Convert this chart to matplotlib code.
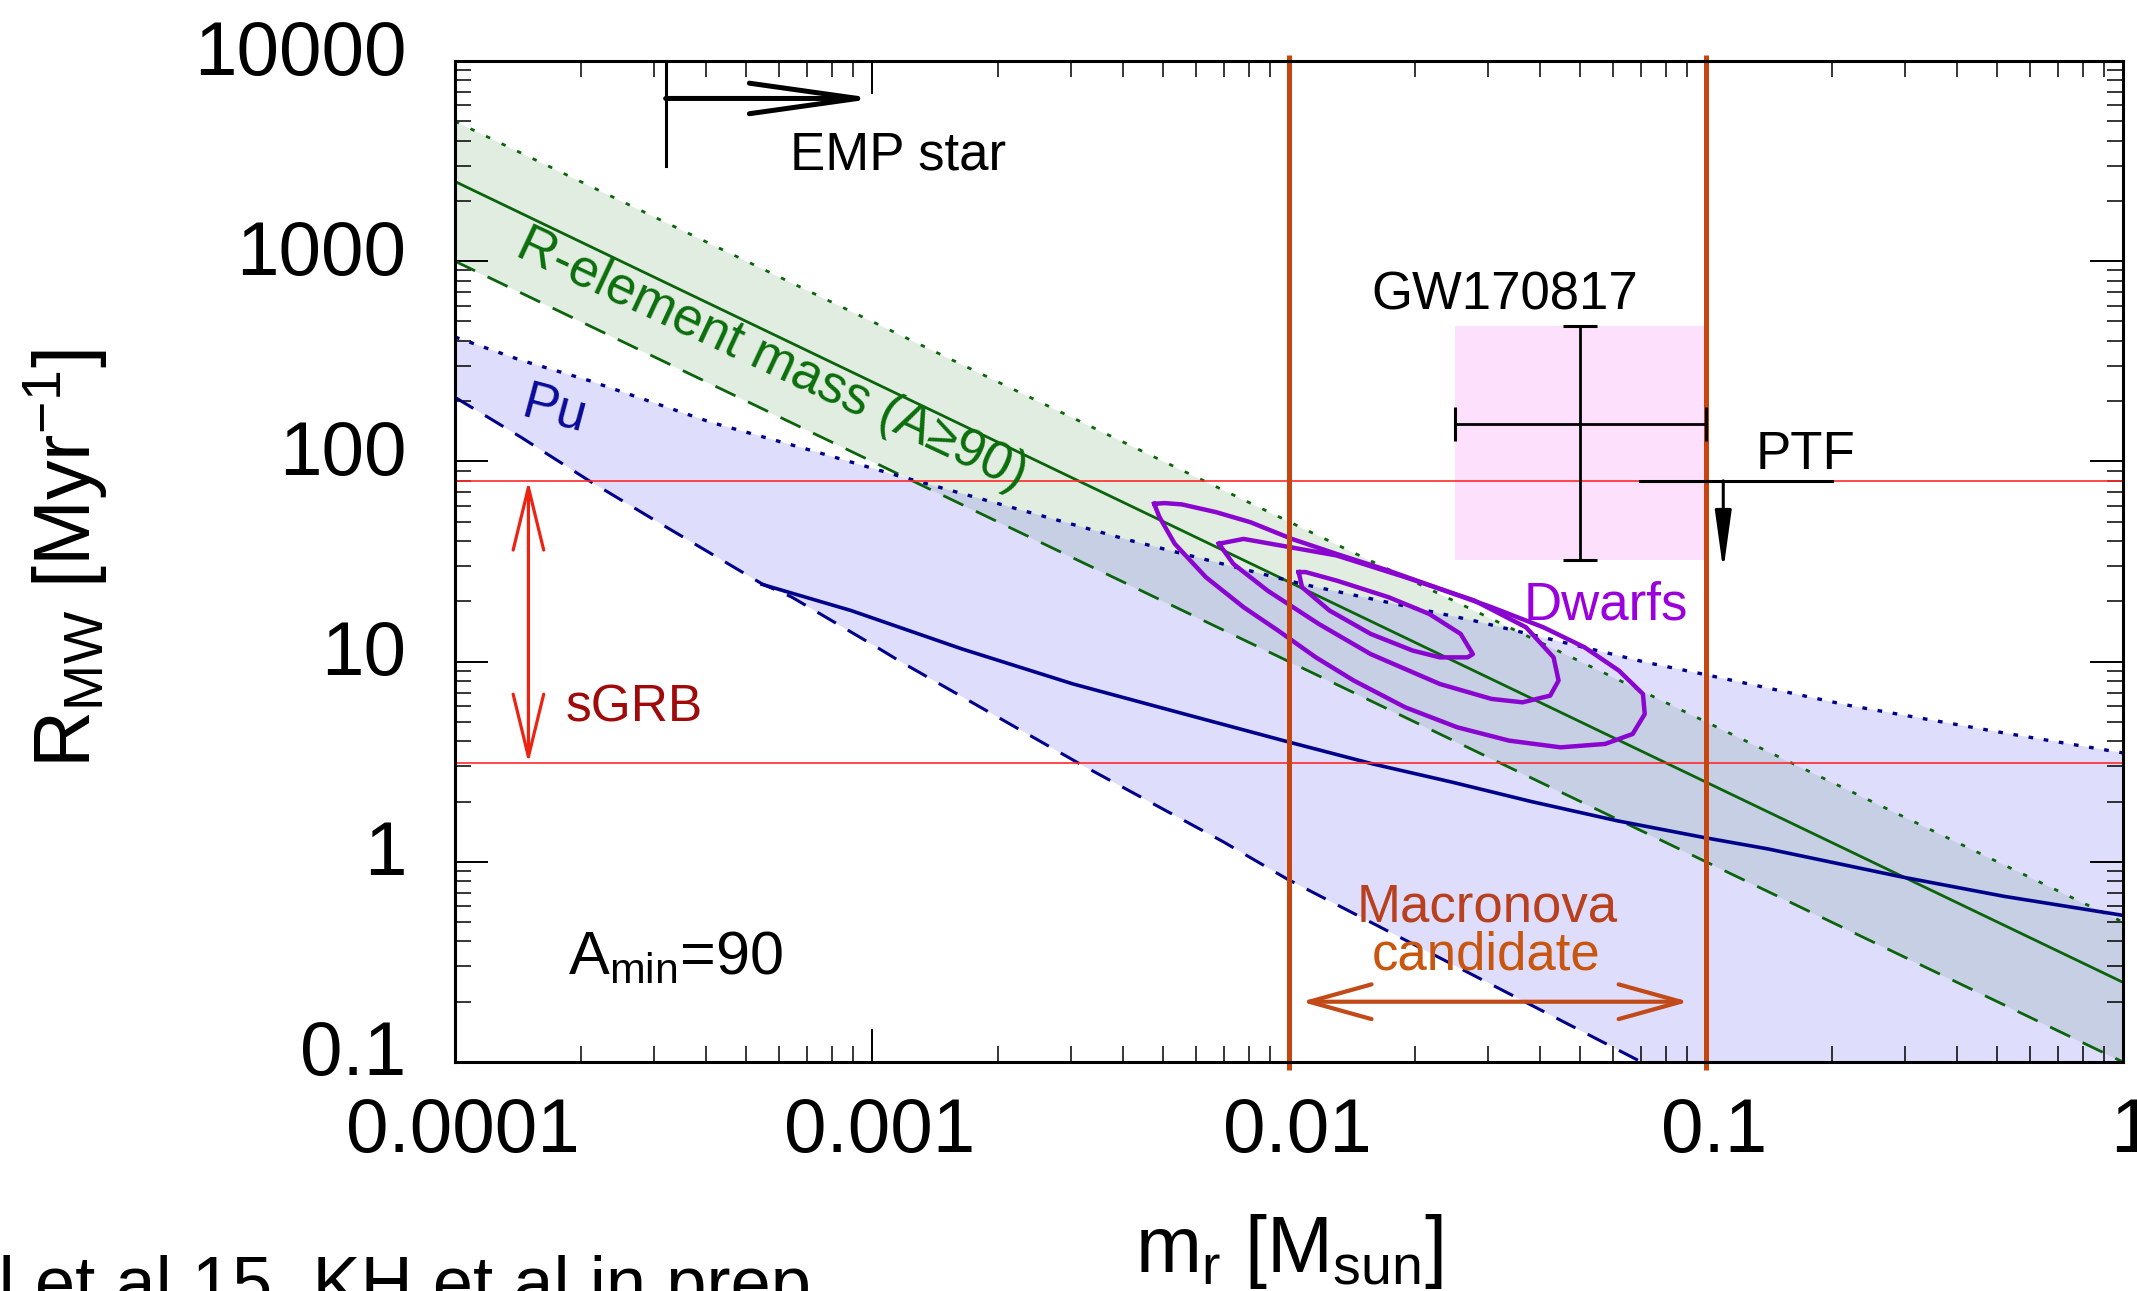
import matplotlib
matplotlib.use('Agg')
import matplotlib.pyplot as plt
from matplotlib.ticker import LogLocator, NullFormatter
from matplotlib.transforms import ScaledTranslation

plt.rcParams['font.family'] = ['Liberation Sans', 'DejaVu Sans']
plt.rcParams['mathtext.default'] = 'regular'

# ---------------- data ----------------
x_lim = [1e-4, 1.0]
y_lim = [0.1, 1e4]
x_ticks = [1e-4, 1e-3, 1e-2, 1e-1, 1.0]
x_tick_labels = ['0.0001', '0.001', '0.01', '0.1', '1']
y_ticks = [0.1, 1, 10, 100, 1000, 10000]
y_tick_labels = ['0.1', '1', '10', '100', '1000', '10000']

# r-element mass band (A>=90)
relem_m = [1e-4, 1e-2, 1.0]
relem_upper = [5000, 50, 0.5]
relem_mid = [2500, 25, 0.25]
relem_lower = [1000, 10, 0.1]

# Pu band
pu_upper_m = [1e-4, 1.44e-4, 2.09e-4, 4.1e-4, 7.2e-4, 1.15e-3, 4.16e-3, 1.075e-2,
              2.78e-2, 7.2e-2, 0.1, 0.2175, 0.519, 1.0]
pu_upper_R = [418, 320, 254, 157, 113, 85, 40.3, 24.4, 16.0, 9.9, 8.6, 6.07, 4.4, 3.5]
pu_lower_m = [1e-4, 1.44e-4, 2.09e-4, 3.02e-4, 5.44e-4, 6.42e-4, 1.027e-3, 1.17e-3,
              3.18e-3, 6.95e-3, 9.9e-3, 0.070]
pu_lower_R = [209, 132, 80.4, 50.7, 24.5, 21.0, 11.8, 10.0, 3.05, 1.26, 0.82, 0.1]
pu_mid_m = [5.45e-4, 8.9e-4, 1.643e-3, 3.03e-3, 5.6e-3, 9.92e-3, 1.59e-2, 2.46e-2, 3.81e-2,
            6.15e-2, 9.93e-2, 0.1407, 0.295, 0.519, 1.0]
pu_mid_R = [24.3, 18.0, 11.57, 7.74, 5.48, 3.98, 3.08, 2.5, 2.0, 1.6, 1.32, 1.16, 0.84,
            0.672, 0.54]

# Dwarf galaxy contours
dw_outer_m = [0.00475, 0.00503, 0.00553, 0.00668, 0.00808, 0.01016, 0.0130, 0.0173, 0.0230,
              0.0306, 0.0407, 0.0511, 0.0618, 0.0706, 0.0713, 0.0667, 0.0573, 0.0448, 0.0337,
              0.0253, 0.0190, 0.0143, 0.0116, 0.00941, 0.00778, 0.00632, 0.00532, 0.00489]
dw_outer_R = [61.4, 61.9, 61.0, 55.8, 49.7, 41.0, 34.5, 28.5, 23.1, 18.7, 14.85, 11.8, 9.02,
              6.89, 5.47, 4.35, 3.88, 3.73, 4.03, 4.70, 5.91, 8.04, 10.5, 14.3, 18.7, 26.4,
              38.8, 52.7]
dw_mid_m = [0.00679, 0.00778, 0.0130, 0.0190, 0.0278, 0.0370, 0.0431, 0.0443, 0.0423, 0.0363,
            0.0306, 0.0230, 0.0157, 0.0118, 0.00889, 0.00735]
dw_mid_R = [38.8, 41.0, 33.9, 26.4, 20.2, 14.85, 10.5, 8.04, 6.76, 6.26, 6.51, 7.73, 10.9,
            15.4, 22.6, 30.8]
dw_inner_m = [0.01055, 0.01096, 0.0130, 0.0173, 0.0217, 0.0258, 0.0276, 0.0268, 0.0230,
              0.0198, 0.0157, 0.0125, 0.01075]
dw_inner_R = [28.0, 28.0, 25.4, 21.0, 17.3, 13.75, 10.9, 10.5, 10.5, 11.35, 13.75, 18.0, 23.5]

# observational constraints
sgrb_range = [3.1, 80]
sgrb_arrow_m = 1.5e-4
macronova_range = [0.01, 0.1]
macronova_arrow_m = [0.0107, 0.091]
macronova_arrow_R = 0.2
gw_m, gw_m_lo, gw_m_hi = 0.05, 0.025, 0.1
gw_R, gw_R_lo, gw_R_hi = 154, 32, 477
ptf_R = 80
ptf_m_range = [0.0695, 0.2]
ptf_arrow_m = 0.11
ptf_arrow_end = 28.5
emp_m = 3.2e-4
emp_R_bottom = 2985
emp_arrow_R = 6500
emp_arrow_end = 1.02e-3

# ---------------- colours ----------------
GREEN = '#0b640b'
NAVY = '#00008b'
PURPLE = '#8a05cf'
ORANGE = '#c5460e'
RED = '#ff2a2a'

W, H = 2137, 1291
fig = plt.figure(figsize=(W / 100, H / 100), dpi=100)
ax = fig.add_axes([455 / W, 1 - 1062 / H, (2123 - 455) / W, (1062 - 61) / H])
ax.set_xscale('log')
ax.set_yscale('log')
ax.set_xlim(x_lim)
ax.set_ylim(y_lim)

# bands
ax.fill_between(relem_m, relem_lower, relem_upper, color='#e1ede1', lw=0, zorder=1)
poly_m = pu_upper_m + [x_lim[1]] + pu_lower_m[::-1]
poly_R = pu_upper_R + [y_lim[0]] + pu_lower_R[::-1]
ax.fill(poly_m, poly_R, color=(90 / 255, 90 / 255, 240 / 255), alpha=0.2, lw=0, zorder=1.5)

# GW170817 box
ax.fill_between([gw_m_lo, gw_m_hi], gw_R_lo, gw_R_hi, color='#fde0fb', lw=0, zorder=1.2)

# r-element lines
ax.plot(relem_m, relem_upper, color=GREEN, lw=2.0, ls=(0, (1.6, 4.6)), zorder=3)
ax.plot(relem_m, relem_mid, color=GREEN, lw=2.0, zorder=3)
ax.plot(relem_m, relem_lower, color=GREEN, lw=2.0, ls=(0, (8, 5)), zorder=3)

# Pu lines
ax.plot(pu_upper_m, pu_upper_R, color=NAVY, lw=2.4, ls=(0, (1.4, 3.2)), zorder=3)
ax.plot(pu_lower_m, pu_lower_R, color=NAVY, lw=2.2, ls=(0, (7, 4.5)), zorder=3)
ax.plot(pu_mid_m, pu_mid_R, color=NAVY, lw=2.6, zorder=3)

# dwarf contours
for cm, cr in [(dw_outer_m, dw_outer_R), (dw_mid_m, dw_mid_R), (dw_inner_m, dw_inner_R)]:
    ax.plot(cm + cm[:1], cr + cr[:1], color=PURPLE, lw=3.2, zorder=3.2,
            solid_joinstyle='round')

# sGRB lines and arrow
for r in sgrb_range:
    ax.axhline(r, color=RED, lw=1.2, zorder=4)
ax.annotate('', xy=(sgrb_arrow_m, sgrb_range[0]), xytext=(sgrb_arrow_m, sgrb_range[1]),
            arrowprops=dict(arrowstyle='<->,head_length=45,head_width=11', mutation_scale=1,
                            color='#ee2211', lw=2.3, shrinkA=0, shrinkB=0), zorder=5)

# macronova vertical lines and arrow
ax.vlines(macronova_range, -0.008, 1.006, transform=ax.get_xaxis_transform(),
          colors=ORANGE, lw=3.6, clip_on=False, zorder=5)
ax.annotate('', xy=(macronova_arrow_m[0], macronova_arrow_R),
            xytext=(macronova_arrow_m[1], macronova_arrow_R),
            arrowprops=dict(arrowstyle='<->,head_length=45,head_width=12.5', mutation_scale=1,
                            color='#c24a18', lw=3.0, shrinkA=0, shrinkB=0), zorder=5)

# GW170817 error bars
ax.errorbar([gw_m], [gw_R], xerr=[[gw_m - gw_m_lo], [gw_m_hi - gw_m]],
            yerr=[[gw_R - gw_R_lo], [gw_R_hi - gw_R]], fmt='none', ecolor='black',
            elinewidth=2.0, capsize=12, capthick=2.2, zorder=6)

# PTF limit
ax.plot(ptf_m_range, [ptf_R, ptf_R], color='black', lw=2.2, zorder=6)
ax.annotate('', xy=(ptf_arrow_m, ptf_arrow_end), xytext=(ptf_arrow_m, ptf_R),
            arrowprops=dict(arrowstyle='-|>,head_length=36,head_width=5', mutation_scale=1,
                            color='black', lw=2.2, shrinkA=0, shrinkB=0), zorder=6)

# EMP star limit
ax.plot([emp_m, emp_m], [emp_R_bottom, y_lim[1]], color='black', lw=2.2, zorder=6,
        clip_on=False)
ax.annotate('', xy=(emp_arrow_end, emp_arrow_R), xytext=(emp_m, emp_arrow_R),
            arrowprops=dict(arrowstyle='->,head_length=78,head_width=11', mutation_scale=1,
                            color='black', lw=3.6, shrinkA=0, shrinkB=0), zorder=6)

# ---------------- texts (pixel positions) ----------------
def px(x, y):
    return x / W, 1 - y / H

def ptext(x, y, s, **kw):
    fig.text(*px(x, y), s, **kw)

ptext(898, 170, 'EMP star', fontsize=38, ha='center', va='baseline')
ptext(1505, 310, 'GW170817', fontsize=38, ha='center', va='baseline')
ptext(1805, 469, 'PTF', fontsize=38, ha='center', va='baseline')
ptext(1606, 620, 'Dwarfs', fontsize=38, ha='center', va='baseline', color='#9a00dc')
ptext(634, 721, 'sGRB', fontsize=37, ha='center', va='baseline', color='#a00a0a')
ptext(1487, 922, 'Macronova', fontsize=38, ha='center', va='baseline', color='#b8401e')
ptext(1486, 969, 'candidate', fontsize=38, ha='center', va='baseline', color='#c8560e')
ptext(676, 974, r'A$_{min}$=90', fontsize=44, ha='center', va='baseline')
ptext(555, 410, 'Pu', fontsize=38, ha='center', va='center', color='#0a0a9a',
      rotation=-15, rotation_mode='anchor')
ptext(772, 360, 'R-element mass (A\u226590)', fontsize=38, ha='center', va='center',
      color='#0b6e0b', rotation=-25, rotation_mode='anchor')

# axis labels
ptext(66, 559, r'R$_{MW}$ [Myr$^{-1}$]', fontsize=57, ha='center', va='center', rotation=90)
ptext(1289, 1272, r'm$_r$ [M$_{sun}$]', fontsize=57, ha='center', va='baseline')
ptext(811, 1307, 'Paul et al 15, KH et al in prep', fontsize=52, ha='right', va='baseline')

# ---------------- ticks ----------------
ax.set_xticks(x_ticks)
ax.set_xticklabels(x_tick_labels)
ax.set_yticks(y_ticks)
ax.set_yticklabels(y_tick_labels)
ax.xaxis.set_minor_locator(LogLocator(base=10, subs=range(2, 10), numticks=20))
ax.yaxis.set_minor_locator(LogLocator(base=10, subs=range(2, 10), numticks=20))
ax.xaxis.set_minor_formatter(NullFormatter())
ax.yaxis.set_minor_formatter(NullFormatter())
ax.tick_params(which='both', direction='in', top=True, right=True, colors='black')
ax.tick_params(which='major', length=24, width=1.4, labelsize=55)
ax.tick_params(which='minor', length=11.5, width=1.1)
ax.tick_params(axis='x', pad=25)
ax.tick_params(axis='y', pad=35)
for lab in ax.get_xticklabels():
    lab.set_transform(lab.get_transform() + ScaledTranslation(8 / 100, 0, fig.dpi_scale_trans))
for lab in ax.get_yticklabels():
    lab.set_transform(lab.get_transform() + ScaledTranslation(0, 14 / 100, fig.dpi_scale_trans))
for sp in ax.spines.values():
    sp.set_linewidth(2.2)
    sp.set_zorder(7)

fig.savefig('out.png', dpi=100)
